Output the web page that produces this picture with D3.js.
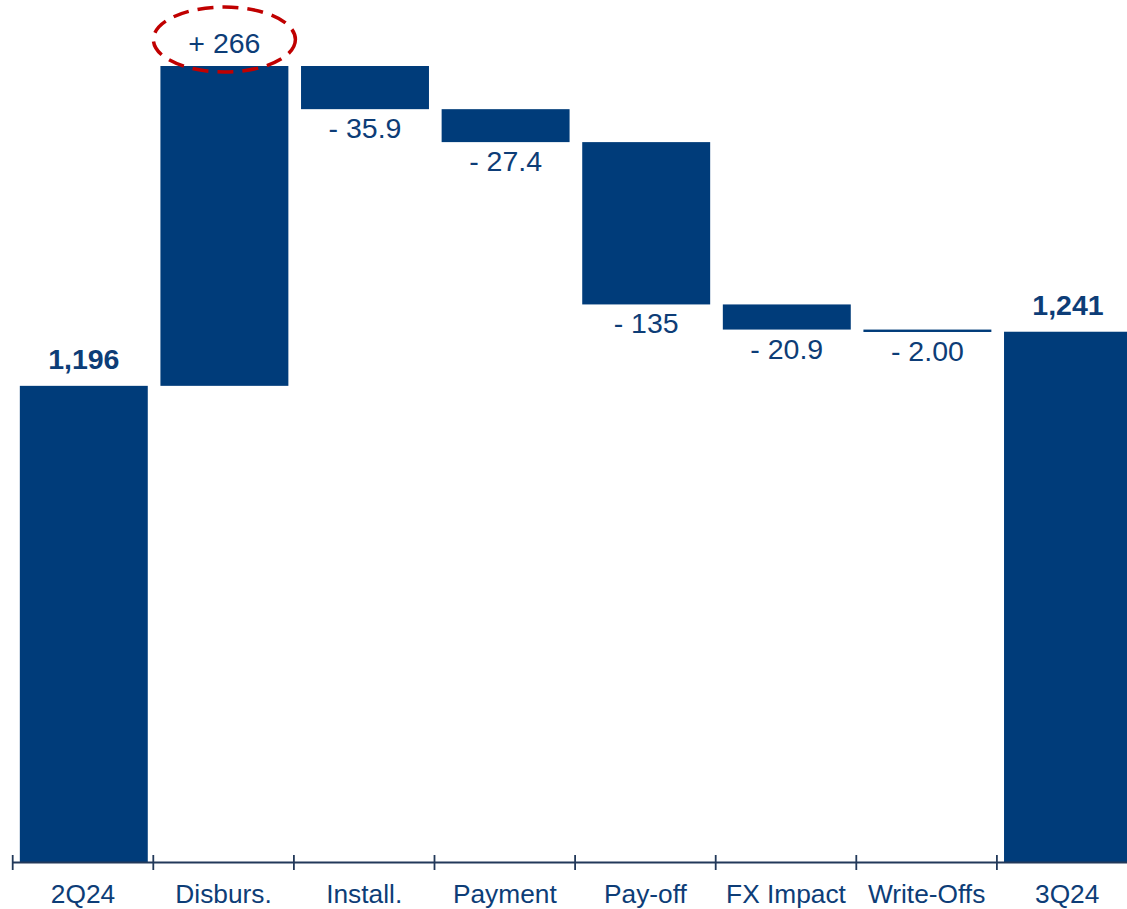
<!DOCTYPE html>
<html>
<head>
<meta charset="utf-8">
<script src="https://cdn.jsdelivr.net/npm/d3@7"></script>
<style>
  html, body { margin: 0; padding: 0; background: #ffffff; }
  svg { display: block; }
  text { font-family: "Liberation Sans", Arial, sans-serif; }
</style>
</head>
<body>
<div id="chart"></div>
<script>
// ---- data ----
const categories = ["2Q24", "Disburs.", "Install.", "Payment", "Pay-off", "FX Impact", "Write-Offs", "3Q24"];
const values     = [1196, 266, -35.9, -27.4, -135, -20.9, -2.00, 1241];
const kinds      = ["total", "delta", "delta", "delta", "delta", "delta", "delta", "total"];
const valueLabels = ["1,196", "+ 266", "- 35.9", "- 27.4", "- 135", "- 20.9", "- 2.00", "1,241"];
const axisBase = 800;          // value at the category axis
const highlighted = ["Disburs."];

// ---- layout ----
const W = 1127, H = 909;
const barColor = "#003c7a";
const textColor = "#0d3d77";
const axisColor = "#22395a";

// compute waterfall segments
let running = 0;
const segs = categories.map((c, i) => {
  let y0, y1;
  if (kinds[i] === "total") {
    y0 = axisBase; y1 = values[i]; running = values[i];
  } else {
    y0 = running; y1 = running + values[i]; running = y1;
  }
  return { cat: c, v: values[i], kind: kinds[i], lo: Math.min(y0, y1), hi: Math.max(y0, y1), label: valueLabels[i] };
});
const maxVal = d3.max(segs, d => d.hi);

const svg = d3.select("#chart").append("svg").attr("width", W).attr("height", H);

const x = d3.scaleBand().domain(categories).range([13.5, 1138.3]).paddingInner(0.09).paddingOuter(0.045);
const xb = d3.scaleBand().domain(categories).range([12.7, 1137.5]).padding(0);
const y = d3.scaleLinear().domain([axisBase, maxVal]).range([862, 66]);

// bars
svg.append("g").selectAll("rect").data(segs).join("rect")
  .attr("x", d => x(d.cat))
  .attr("width", x.bandwidth())
  .attr("y", d => y(d.hi))
  .attr("height", d => Math.max(2.4, y(d.lo) - y(d.hi)))
  .attr("fill", barColor);

// value labels
svg.append("g").selectAll("text").data(segs).join("text")
  .attr("x", d => x(d.cat) + x.bandwidth() / 2)
  .attr("y", d => {
    if (d.kind === "total") return y(d.hi) - 17;
    if (d.v >= 0) return y(d.hi) - 13;
    return y(d.lo) + 29;
  })
  .attr("text-anchor", "middle")
  .attr("font-size", 28.5)
  .attr("font-weight", d => d.kind === "total" ? "bold" : "normal")
  .attr("fill", textColor)
  .text(d => d.label);

// highlight ellipse
svg.append("g").selectAll("ellipse").data(segs.filter(d => highlighted.includes(d.cat))).join("ellipse")
  .attr("cx", d => x(d.cat) + x.bandwidth() / 2)
  .attr("cy", d => y(d.hi) - 26.5)
  .attr("rx", 71)
  .attr("ry", 32.5)
  .attr("fill", "none")
  .attr("stroke", "#c00000")
  .attr("stroke-width", 3.5)
  .attr("stroke-dasharray", "16,9");

// axis
const ax = svg.append("g");
ax.append("line")
  .attr("x1", xb.range()[0]).attr("x2", W)
  .attr("y1", 862.5).attr("y2", 862.5)
  .attr("stroke", axisColor).attr("stroke-width", 2.2);
const tickPos = categories.map(c => xb(c));
ax.selectAll("line.tick").data(tickPos).join("line").attr("class", "tick")
  .attr("x1", d => d).attr("x2", d => d)
  .attr("y1", 855).attr("y2", 870)
  .attr("stroke", axisColor).attr("stroke-width", 1.8);
ax.selectAll("text").data(categories).join("text")
  .attr("x", d => xb(d) + xb.bandwidth() / 2)
  .attr("y", 903)
  .attr("text-anchor", "middle")
  .attr("font-size", 26.3)
  .attr("fill", textColor)
  .text(d => d);
</script>
</body>
</html>
